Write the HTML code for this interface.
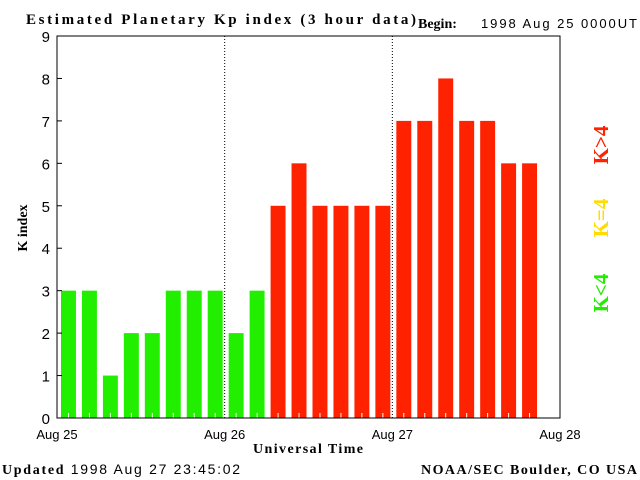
<!DOCTYPE html>
<html><head><style>
body{margin:0;background:#fff}
svg{display:block;font-family:"Liberation Serif",serif}
</style></head><body>
<svg width="640" height="480" xmlns="http://www.w3.org/2000/svg">
<text x="26" y="24" font-size="15" font-weight="bold" textLength="390" lengthAdjust="spacing">Estimated Planetary Kp index (3 hour data)</text>
<text x="418" y="28" font-size="14" font-weight="bold">Begin:</text>
<text x="481" y="28" font-size="13" font-family="Liberation Sans" textLength="156">1998 Aug 25 0000UT</text>
<g id="plot"></g>
<text transform="translate(27,228) rotate(-90)" text-anchor="middle" font-size="14" font-weight="bold">K index</text>
<text x="253" y="453" font-size="14" font-weight="bold" textLength="110">Universal Time</text>
<text x="2" y="474" font-size="14" textLength="238"><tspan font-weight="bold">Updated</tspan><tspan font-family="Liberation Sans" font-size="14"> 1998 Aug 27 23:45:02</tspan></text>
<text x="421" y="474" font-size="14" font-weight="bold" textLength="216">NOAA/SEC Boulder, CO USA</text>
<text transform="translate(608,293) rotate(-90)" text-anchor="middle" font-size="21" font-weight="bold" fill="#22ee00">K&lt;4</text>
<text transform="translate(608,218) rotate(-90)" text-anchor="middle" font-size="21" font-weight="bold" fill="#ffdd00">K=4</text>
<text transform="translate(608,145) rotate(-90)" text-anchor="middle" font-size="21" font-weight="bold" fill="#ff2200">K&gt;4</text>
</svg>
<script>
const kpValues=[3,3,1,2,2,3,3,3,2,3,5,6,5,5,5,5,7,7,8,7,7,6,6];
const yTicks=[0,1,2,3,4,5,6,7,8,9];
const dayLabels=["Aug 25","Aug 26","Aug 27","Aug 28"];
const X0=57,X1=560,Y0=418,Y9=36,slots=24;
const ns="http://www.w3.org/2000/svg";
const g=document.getElementById('plot');
const xs=i=>X0+(X1-X0)*i/slots;
const ys=v=>Y0-(Y0-Y9)*v/9;
function mk(t,a){const e=document.createElementNS(ns,t);for(const k in a)e.setAttribute(k,a[k]);g.appendChild(e);return e;}
kpValues.forEach((v,i)=>{
  const x=xs(i)+4,w=(X1-X0)/slots-6;
  const col=v<4?'#22ee00':(v==4?'#ffdd00':'#ff2200');
  const r=mk('rect',{x:x,y:ys(v),width:w,height:Y0-ys(v),fill:col});
  
  
  const t=mk('line',{x1:x+w/2,x2:x+w/2,y1:Y0-5,y2:Y0,stroke:'#fff'});
  
  
});
[1,2].forEach(d=>{
  const l=mk('line',{x1:xs(d*8),x2:xs(d*8),y1:Y9,y2:Y0,stroke:'#000','stroke-dasharray':'1,2'});
  
  
});
const f=mk('rect',{x:X0,y:Y9,width:X1-X0,height:Y0-Y9,fill:'none',stroke:'#000'});


yTicks.forEach(v=>{
  const l=mk('line',{x1:X0,x2:X0+5,y1:ys(v),y2:ys(v),stroke:'#000'});
  
  
  const t=mk('text',{x:X0-7,y:ys(v)+6,'text-anchor':'end','font-size':'15','font-family':'Liberation Sans'});
  t.textContent=v;
  
  
});
dayLabels.forEach((s,d)=>{
  const t=mk('text',{x:xs(d*8),y:439,'text-anchor':'middle','font-size':'13','font-family':'Liberation Sans'});
  t.textContent=s;
  
  
});
</script>
</body></html>
